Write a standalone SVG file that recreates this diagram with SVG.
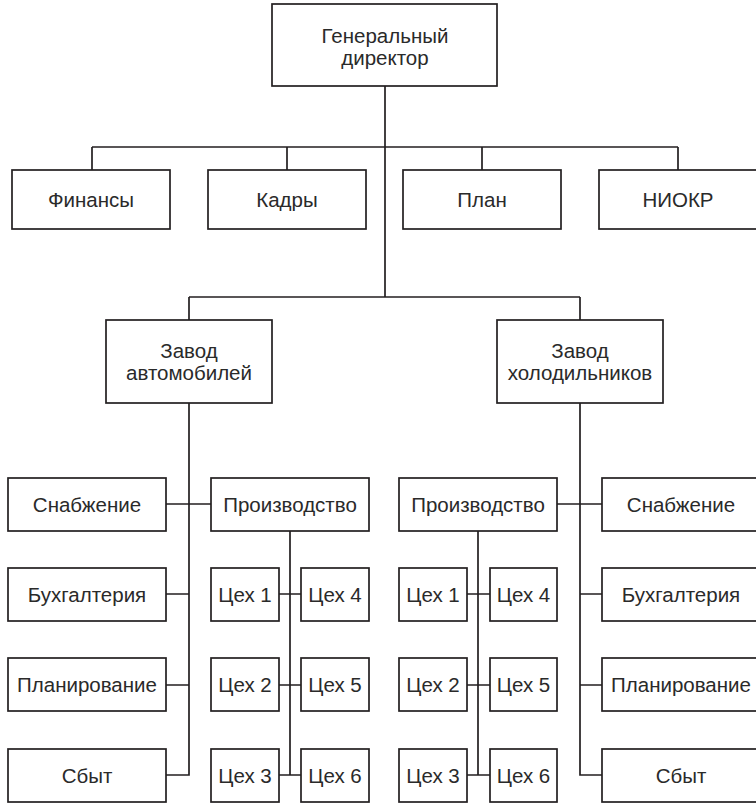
<svg xmlns="http://www.w3.org/2000/svg" width="756" height="803" viewBox="0 0 756 803">
<style>
.box{fill:#fff;stroke:#231f20;stroke-width:1.7}
.ln{fill:none;stroke:#231f20;stroke-width:1.7}
text{font-family:"Liberation Sans",Arial,sans-serif;font-size:20.5px;fill:#2a2a2a;text-anchor:middle}
</style>
<rect width="756" height="803" fill="#fff"/>
<g id="connectors" class="ln">
<path d="M385 86V297M92 147H678M92 147V170M287 147V170M482 147V170M678 147V170"/>
<path d="M189 297H580M189 297V320M580 297V320"/>
<path d="M189 403V775H166M166 504H211M166 594H189M166 685H189"/>
<path d="M290 531V775M279 594H301M279 685H301M279 775H301"/>
<path d="M580 403V775H602M557 504H602M580 594H602M580 685H602"/>
<path d="M478 531V775M467 594H490M467 685H490M467 775H490"/>
</g>
<g id="gd"><rect class="box" x="272" y="4" width="225" height="82"/><text x="385" y="43">Генеральный</text><text x="385" y="65">директор</text></g>
<g id="fin"><rect class="box" x="12" y="170" width="158" height="59"/><text x="91" y="207">Финансы</text></g>
<g id="kadry"><rect class="box" x="208" y="170" width="158" height="59"/><text x="287" y="207">Кадры</text></g>
<g id="plan"><rect class="box" x="403" y="170" width="158" height="59"/><text x="482" y="207">План</text></g>
<g id="niokr"><rect class="box" x="599" y="170" width="158" height="59"/><text x="678" y="207">НИОКР</text></g>
<g id="zavod-auto"><rect class="box" x="106" y="320" width="166" height="83"/><text x="189" y="358">Завод</text><text x="189" y="380">автомобилей</text></g>
<g id="zavod-fridge"><rect class="box" x="497" y="320" width="166" height="83"/><text x="580" y="358">Завод</text><text x="580" y="380">холодильников</text></g>
<g id="l-snab"><rect class="box" x="8" y="478" width="158" height="53"/><text x="87" y="512">Снабжение</text></g>
<g id="l-buh"><rect class="box" x="8" y="568" width="158" height="53"/><text x="87" y="602">Бухгалтерия</text></g>
<g id="l-plan"><rect class="box" x="8" y="658" width="158" height="53"/><text x="87" y="692">Планирование</text></g>
<g id="l-sbyt"><rect class="box" x="8" y="749" width="158" height="53"/><text x="87" y="783">Сбыт</text></g>
<g id="l-proizv"><rect class="box" x="211" y="478" width="158" height="53"/><text x="290" y="512">Производство</text></g>
<g id="l-c1"><rect class="box" x="211" y="568" width="68" height="53"/><text x="245" y="602">Цех 1</text></g>
<g id="l-c2"><rect class="box" x="211" y="658" width="68" height="53"/><text x="245" y="692">Цех 2</text></g>
<g id="l-c3"><rect class="box" x="211" y="749" width="68" height="53"/><text x="245" y="783">Цех 3</text></g>
<g id="l-c4"><rect class="box" x="301" y="568" width="68" height="53"/><text x="335" y="602">Цех 4</text></g>
<g id="l-c5"><rect class="box" x="301" y="658" width="68" height="53"/><text x="335" y="692">Цех 5</text></g>
<g id="l-c6"><rect class="box" x="301" y="749" width="68" height="53"/><text x="335" y="783">Цех 6</text></g>
<g id="r-proizv"><rect class="box" x="399" y="478" width="158" height="53"/><text x="478" y="512">Производство</text></g>
<g id="r-c1"><rect class="box" x="399" y="568" width="68" height="53"/><text x="433" y="602">Цех 1</text></g>
<g id="r-c2"><rect class="box" x="399" y="658" width="68" height="53"/><text x="433" y="692">Цех 2</text></g>
<g id="r-c3"><rect class="box" x="399" y="749" width="68" height="53"/><text x="433" y="783">Цех 3</text></g>
<g id="r-c4"><rect class="box" x="490" y="568" width="67" height="53"/><text x="523.5" y="602">Цех 4</text></g>
<g id="r-c5"><rect class="box" x="490" y="658" width="67" height="53"/><text x="523.5" y="692">Цех 5</text></g>
<g id="r-c6"><rect class="box" x="490" y="749" width="67" height="53"/><text x="523.5" y="783">Цех 6</text></g>
<g id="r-snab"><rect class="box" x="602" y="478" width="158" height="53"/><text x="681" y="512">Снабжение</text></g>
<g id="r-buh"><rect class="box" x="602" y="568" width="158" height="53"/><text x="681" y="602">Бухгалтерия</text></g>
<g id="r-plan"><rect class="box" x="602" y="658" width="158" height="53"/><text x="681" y="692">Планирование</text></g>
<g id="r-sbyt"><rect class="box" x="602" y="749" width="158" height="53"/><text x="681" y="783">Сбыт</text></g>
</svg>
